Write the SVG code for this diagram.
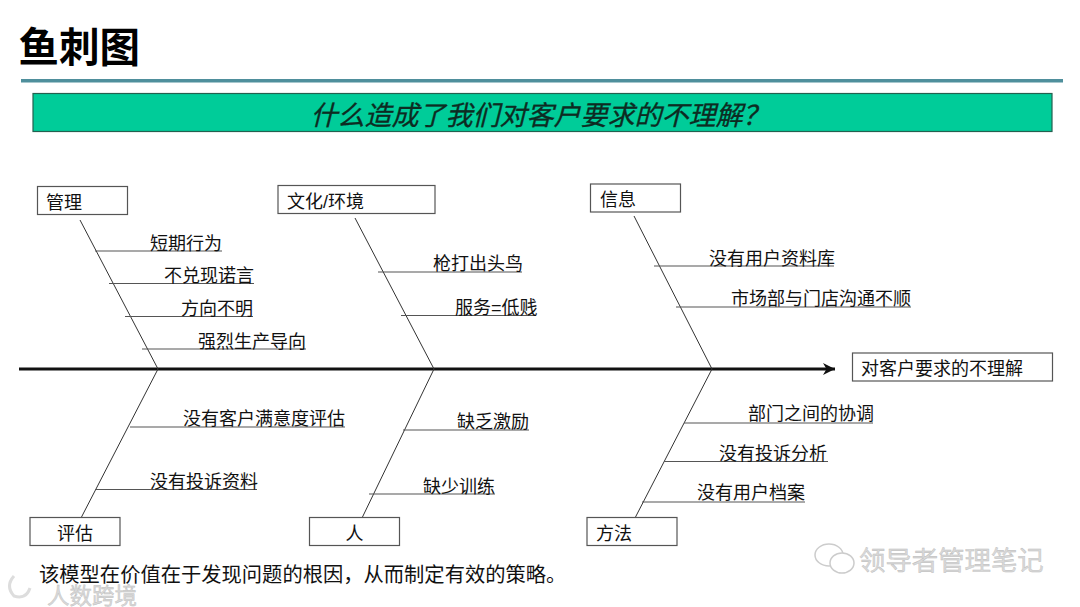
<svg xmlns="http://www.w3.org/2000/svg" width="1080" height="607" viewBox="0 0 1080 607">
<defs>
<marker id="arrow" markerUnits="userSpaceOnUse" markerWidth="14" markerHeight="14" refX="12" refY="6" orient="auto"><path d="M0 0L12 6L0 12L3.5 6Z" fill="#111"/></marker>
</defs>
<style>
text{font-family:"Liberation Sans","Noto Sans CJK SC",sans-serif;fill:#111}
.l{font-size:18px}
.m{text-anchor:middle}
.b{fill:#fff;stroke:#555;stroke-width:1.2}
.bone{stroke:#333;stroke-width:1;fill:none}
.sub{stroke:#555;stroke-width:1.2;fill:none}
.wm{fill:#d9d9d9;stroke:#bbb;stroke-width:.4}
</style>
<rect width="1080" height="607" fill="#fff"/>
<g id="title"><text x="18.500" y="62" font-size="40.500" font-weight="700" style="fill:#000">鱼刺图</text></g>
<rect id="rule" x="21" y="79" width="1042" height="3.5" fill="#4f8f9c"/>
<g id="banner"><rect x="33" y="93.500" width="1019" height="38" fill="#00cc99" stroke="#24604f" stroke-width="1.200"/><text x="540" y="125" font-size="27" font-style="italic" class="m" style="fill:#0d2b22;stroke:#0d2b22;stroke-width:.3">什么造成了我们对客户要求的不理解？</text></g>
<g id="connectors">
<line x1="19" y1="369" x2="835" y2="369" stroke="#111" stroke-width="3" marker-end="url(#arrow)"/>
<path class="bone" d="M80 220L158 369L81 518M355 218L434 369L362 518M634 216L712 369L635 518"/>
<path class="sub" d="M95 251H222M109 283.500H254M125 316.500H253M142 349H306M378 272H522M401 315.500H536M654 266H834M676 307H911M130 427H345M95 489.500H257M403 430H529M369 494H495M684 423H873M664 461.500H828M642 502H805"/>
</g>
<g id="n-guanli"><rect class="b" x="37.500" y="186.500" width="90" height="28"/><text class="l" x="46" y="209">管理</text></g>
<g id="n-wenhua"><rect class="b" x="278" y="185.500" width="157" height="28"/><text class="l" x="287" y="208">文化/环境</text></g>
<g id="n-xinxi"><rect class="b" x="590.500" y="184" width="90" height="28"/><text class="l" x="600" y="206">信息</text></g>
<g id="n-result"><rect class="b" x="852.500" y="353" width="200" height="28"/><text class="l" x="861" y="375">对客户要求的不理解</text></g>
<g id="n-pinggu"><rect class="b" x="30" y="517.500" width="90" height="28"/><text class="l m" x="75" y="540">评估</text></g>
<g id="n-ren"><rect class="b" x="309.500" y="517.500" width="90" height="28"/><text class="l m" x="354.500" y="540">人</text></g>
<g id="n-fangfa"><rect class="b" x="587" y="517.500" width="90" height="28"/><text class="l" x="596" y="540">方法</text></g>
<g id="causes">
<text class="l" x="150" y="250">短期行为</text>
<text class="l" x="164" y="282">不兑现诺言</text>
<text class="l" x="181" y="315">方向不明</text>
<text class="l" x="198" y="348">强烈生产导向</text>
<text class="l" x="433" y="270">枪打出头鸟</text>
<text class="l" x="455" y="314">服务=低贱</text>
<text class="l" x="709" y="265">没有用户资料库</text>
<text class="l" x="731" y="305">市场部与门店沟通不顺</text>
<text class="l" x="183" y="425">没有客户满意度评估</text>
<text class="l" x="150" y="488">没有投诉资料</text>
<text class="l" x="457" y="428">缺乏激励</text>
<text class="l" x="423" y="493">缺少训练</text>
<text class="l" x="748" y="420">部门之间的协调</text>
<text class="l" x="719" y="460">没有投诉分析</text>
<text class="l" x="697" y="499">没有用户档案</text>
</g>
<text id="note" x="39" y="581.500" font-size="20.300">该模型在价值在于发现问题的根因，从而制定有效的策略。</text>
<g id="watermarks">
<g fill="none" stroke="#ccc" stroke-width="1.500"><ellipse cx="829" cy="555" rx="14" ry="11"/><ellipse cx="842" cy="563" rx="12" ry="10" fill="#fff"/></g>
<text class="wm" x="859" y="570" font-size="26.400">领导者管理笔记</text>
<path d="M14 576Q5 586 14 596Q26 600 30 588" fill="none" stroke="#ddd" stroke-width="3"/>
<text class="wm" x="47" y="604" font-size="22.500">人数跨境</text>
</g>
</svg>
